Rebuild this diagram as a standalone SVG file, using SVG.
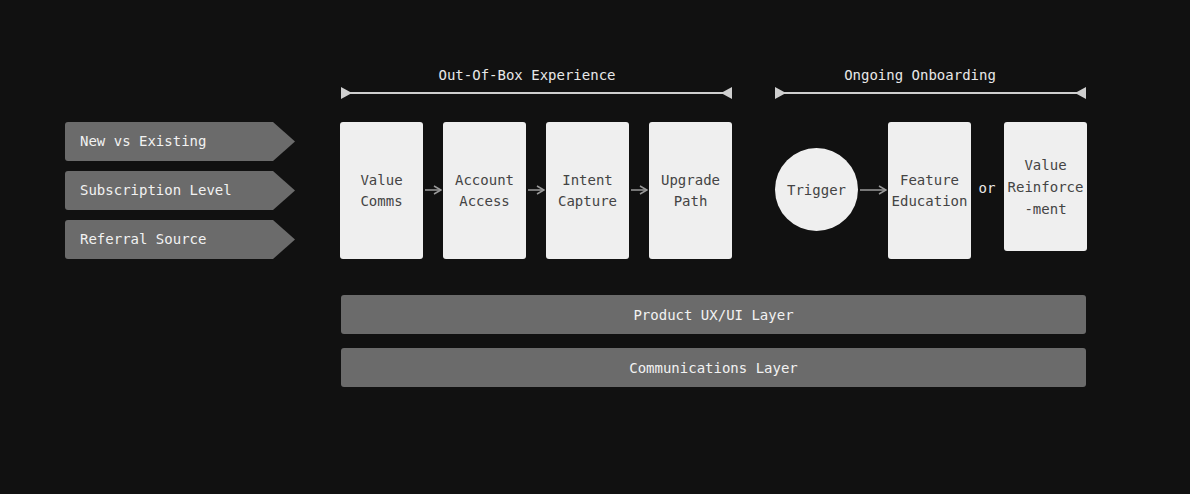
<svg xmlns="http://www.w3.org/2000/svg" width="1190" height="494" viewBox="0 0 1190 494">
<defs>
<style>
text{font-family:"DejaVu Sans Mono","Liberation Mono",monospace;font-size:14px}
.tag{fill:#6b6b6b}
.tagt{fill:#f2f2f2}
.box{fill:#efefef}
.boxt{fill:#444;text-anchor:middle}
.layer{fill:#6b6b6b}
.layert{fill:#f2f2f2;text-anchor:middle}
.hdr{fill:#e8e8e8;text-anchor:middle}
.span{stroke:#cfcfcf;stroke-width:2;fill:none}
.tri{fill:#cfcfcf}
.conn{stroke:#9a9a9a;stroke-width:1.5;fill:none;marker-end:url(#ah)}
</style>
<marker id="ah" viewBox="0 0 10 10" refX="9" refY="5" markerWidth="10" markerHeight="10" markerUnits="userSpaceOnUse" orient="auto">
<path d="M2,1 L9,5 L2,9" fill="none" stroke="#9a9a9a" stroke-width="1.5"/>
</marker>
</defs>
<rect width="1190" height="494" fill="#111111"/>

<g id="tag-new">
<path class="tag" d="M68,122 H273 L295,141.5 L273,161 H68 A3,3 0 0 1 65,158 V125 A3,3 0 0 1 68,122 Z"/>
<text class="tagt" x="80" y="146">New vs Existing</text>
</g>
<g id="tag-subscription">
<path class="tag" d="M68,171 H273 L295,190.5 L273,210 H68 A3,3 0 0 1 65,207 V174 A3,3 0 0 1 68,171 Z"/>
<text class="tagt" x="80" y="195">Subscription Level</text>
</g>
<g id="tag-referral">
<path class="tag" d="M68,220 H273 L295,239.5 L273,259 H68 A3,3 0 0 1 65,256 V223 A3,3 0 0 1 68,220 Z"/>
<text class="tagt" x="80" y="244">Referral Source</text>
</g>

<g id="span-oobe">
<text class="hdr" x="527" y="80">Out-Of-Box Experience</text>
<line class="span" x1="345" y1="93" x2="728" y2="93"/>
<polygon class="tri" points="341,87 341,99 352,93"/>
<polygon class="tri" points="732,87 732,99 721,93"/>
</g>
<g id="span-ongoing">
<text class="hdr" x="920" y="80">Ongoing Onboarding</text>
<line class="span" x1="779" y1="93" x2="1082" y2="93"/>
<polygon class="tri" points="775,87 775,99 786,93"/>
<polygon class="tri" points="1086,87 1086,99 1075,93"/>
</g>

<g id="value-comms">
<rect class="box" x="340" y="122" width="83" height="137" rx="3"/>
<text class="boxt" x="381.5" y="185">Value</text>
<text class="boxt" x="381.5" y="206">Comms</text>
</g>
<g id="account-access">
<rect class="box" x="443" y="122" width="83" height="137" rx="3"/>
<text class="boxt" x="484.5" y="185">Account</text>
<text class="boxt" x="484.5" y="206">Access</text>
</g>
<g id="intent-capture">
<rect class="box" x="546" y="122" width="83" height="137" rx="3"/>
<text class="boxt" x="587.5" y="185">Intent</text>
<text class="boxt" x="587.5" y="206">Capture</text>
</g>
<g id="upgrade-path">
<rect class="box" x="649" y="122" width="83" height="137" rx="3"/>
<text class="boxt" x="690.5" y="185">Upgrade</text>
<text class="boxt" x="690.5" y="206">Path</text>
</g>

<g id="trigger">
<circle class="box" cx="816.5" cy="189.5" r="41.5"/>
<text class="boxt" x="816.5" y="195">Trigger</text>
</g>
<g id="feature-education">
<rect class="box" x="888" y="122" width="83" height="137" rx="3"/>
<text class="boxt" x="929.5" y="185">Feature</text>
<text class="boxt" x="929.5" y="206">Education</text>
</g>
<g id="or-label">
<text x="987" y="192.5" fill="#e8e8e8" text-anchor="middle">or</text>
</g>
<g id="value-reinforcement">
<rect class="box" x="1004" y="122" width="83" height="129" rx="3"/>
<text class="boxt" x="1045.5" y="170">Value</text>
<text class="boxt" x="1045.5" y="192">Reinforce</text>
<text class="boxt" x="1045.5" y="214">-ment</text>
</g>

<g id="layer-product">
<rect class="layer" x="341" y="295" width="745" height="39" rx="3"/>
<text class="layert" x="713.5" y="319.5">Product UX/UI Layer</text>
</g>
<g id="layer-comms">
<rect class="layer" x="341" y="348" width="745" height="39" rx="3"/>
<text class="layert" x="713.5" y="372.5">Communications Layer</text>
</g>

<g id="connectors">
<line class="conn" x1="425" y1="190" x2="441" y2="190"/>
<line class="conn" x1="528" y1="190" x2="544" y2="190"/>
<line class="conn" x1="631" y1="190" x2="647" y2="190"/>
<line class="conn" x1="860" y1="190" x2="886" y2="190"/>
</g>
</svg>
